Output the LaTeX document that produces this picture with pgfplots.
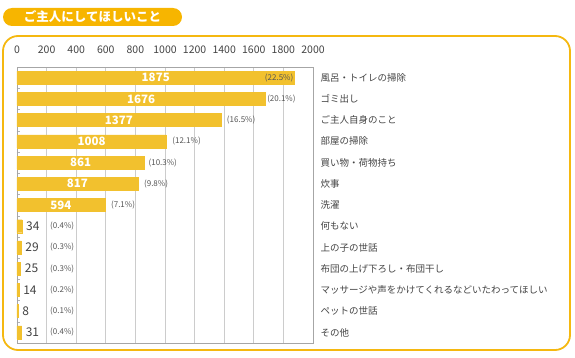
\documentclass[border=0pt]{standalone}
\usepackage{fontspec}
\setmainfont{Noto Sans CJK JP}
\usepackage{pgfplots}
\pgfplotsset{compat=1.18}
\definecolor{barc}{HTML}{F2C12E}
\definecolor{panel}{HTML}{F5B810}
\definecolor{titlec}{HTML}{F7B500}
\definecolor{txt}{HTML}{444444}
\definecolor{pct}{HTML}{555555}
\definecolor{gridc}{HTML}{CCCCCC}
\begin{document}
\begin{tikzpicture}
\useasboundingbox (0,0) rectangle (575pt,357pt);
% panel
\draw[panel, line width=1.8pt, rounded corners=15pt, fill=white] (3pt,7pt) rectangle (570pt,321pt);
% title pill
\fill[titlec, rounded corners=9pt] (3pt,331pt) rectangle (182pt,349pt);
\node[text=white, font=\bfseries\fontsize{12.5}{13}\selectfont] at (92.5pt,340pt) {ご主人にしてほしいこと};
\begin{axis}[
  at={(17pt,14pt)}, anchor=south west,
  scale only axis, width=296pt, height=276pt,
  xbar, bar width=13pt,
  xmin=0, xmax=2000, ymin=-0.5, ymax=12.5,
  y dir=reverse,
  xtick={0,200,...,2000},
  xticklabel pos=top,
  xtick style={draw=none},
  xticklabel style={font=\fontsize{10.5}{11}\selectfont, text=txt, yshift=10pt},
  /pgf/number format/1000 sep={},
  /pgf/number format/assume math mode=true,
  xmajorgrids, grid style={gridc, line width=0.8pt},
  ytick={0,...,12},
  yticklabels={風呂・トイレの掃除, ゴミ出し, ご主人自身のこと, 部屋の掃除, 買い物・荷物持ち, 炊事, 洗濯, 何もない, 上の子の世話, 布団の上げ下ろし・布団干し, マッサージや声をかけてくれるなどいたわってほしい, ペットの世話, その他},
  yticklabel pos=right,
  major tick length=0pt,
  yticklabel style={font=\fontsize{9.5}{10}\selectfont, text=txt, xshift=4pt},
  minor ytick={0.5,1.5,...,11.5},
  minor tick length=3pt,
  ytick pos=left,
  tick align=inside,
  minor tick style={gray!60},
  axis line style={gray!70, line width=0.8pt},
  clip=false,
]
\addplot[fill=barc, draw=barc] coordinates {
  (1875,0) (1676,1) (1377,2) (1008,3) (861,4) (817,5) (594,6)
  (34,7) (29,8) (25,9) (14,10) (8,11) (31,12)};
% value labels inside bars
\tikzset{vin/.style={text=white, font=\bfseries\fontsize{11.5}{12}\selectfont, inner sep=0pt},
         vout/.style={text=txt, font=\fontsize{12}{12}\selectfont, anchor=west, inner sep=0pt, xshift=4pt},
         pc/.style={text=pct, font=\fontsize{8}{9}\selectfont, anchor=west, inner sep=0pt}}
\node[vin] at (axis cs:937.5,0) {1875};
\node[vin] at (axis cs:838,1) {1676};
\node[vin] at (axis cs:688.5,2) {1377};
\node[vin] at (axis cs:504,3) {1008};
\node[vin] at (axis cs:430.5,4) {861};
\node[vin] at (axis cs:408.5,5) {817};
\node[vin] at (axis cs:297,6) {594};
\node[vout] at (axis cs:34,7) {34};
\node[vout] at (axis cs:29,8) {29};
\node[vout] at (axis cs:25,9) {25};
\node[vout] at (axis cs:14,10) {14};
\node[vout] at (axis cs:8,11) {8};
\node[vout] at (axis cs:31,12) {31};
% percentages
\node[pc, anchor=east, xshift=-1pt] at (axis cs:1875,0) {(22.5\%)};
\node[pc, xshift=2pt] at (axis cs:1676,1) {(20.1\%)};
\node[pc, xshift=6pt] at (axis cs:1377,2) {(16.5\%)};
\node[pc, xshift=6pt] at (axis cs:1008,3) {(12.1\%)};
\node[pc, xshift=4pt] at (axis cs:861,4) {(10.3\%)};
\node[pc, xshift=6pt] at (axis cs:817,5) {(9.8\%)};
\node[pc, xshift=6pt] at (axis cs:594,6) {(7.1\%)};
\node[pc] at (axis cs:223,7) {(0.4\%)};
\node[pc] at (axis cs:223,8) {(0.3\%)};
\node[pc] at (axis cs:223,9) {(0.3\%)};
\node[pc] at (axis cs:223,10) {(0.2\%)};
\node[pc] at (axis cs:223,11) {(0.1\%)};
\node[pc] at (axis cs:223,12) {(0.4\%)};
\end{axis}
\end{tikzpicture}
\end{document}
